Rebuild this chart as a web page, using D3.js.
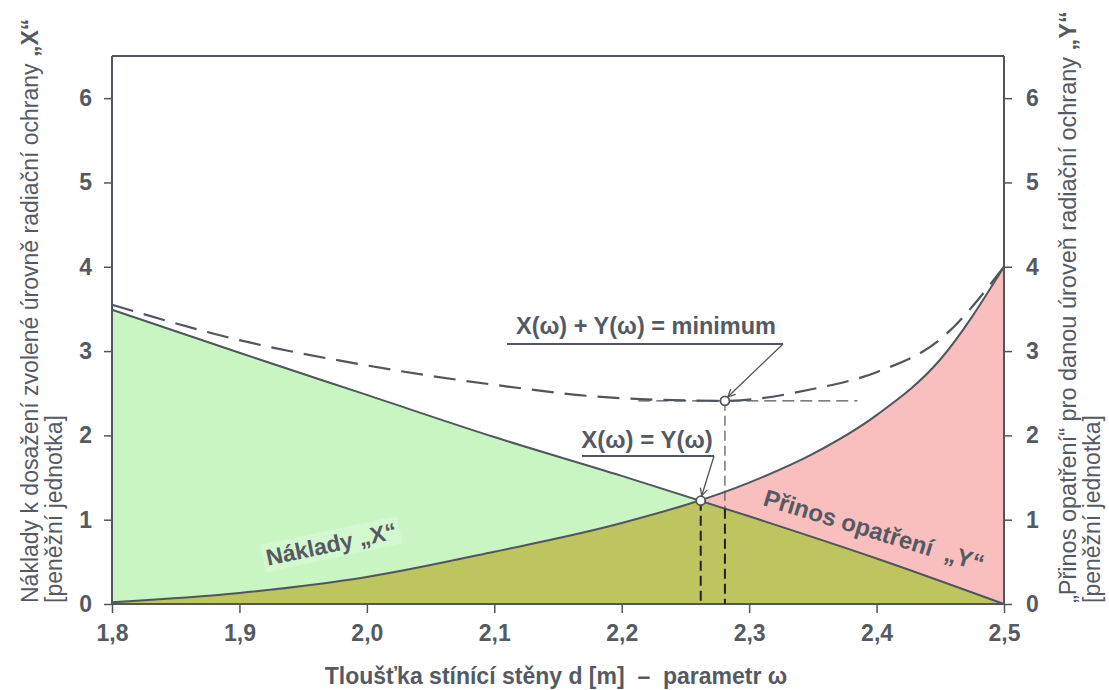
<!DOCTYPE html>
<html><head><meta charset="utf-8">
<script src="https://cdn.jsdelivr.net/npm/d3@7"></script>
<style>
body{margin:0;background:#fff;}
text{font-family:"Liberation Sans",Arial,sans-serif;fill:#555a62;}
</style></head>
<body><svg id="c" width="1109" height="690"></svg>
<script>
// ---- data ----
const xTicks = [1.8,1.9,2.0,2.1,2.2,2.3,2.4,2.5];
const xTickLabels = ["1,8","1,9","2,0","2,1","2,2","2,3","2,4","2,5"];
const yTicks = [0,1,2,3,4,5,6];
const yTickLabels = ["0","1","2","3","4","5","6"];
const costX = [1.8,1.9,2.0,2.1,2.2,2.3,2.4,2.5];           // Náklady X (decreasing line)
const costV = [3.49,2.98,2.48,1.98,1.52,1.04,0.54,0.0];
const benX  = [1.8,1.9,2.0,2.1,2.2,2.3,2.35,2.4,2.45,2.5]; // Přínos Y (increasing curve)
const benV  = [0.02,0.13,0.32,0.62,0.96,1.44,1.78,2.24,2.9,4.0];
const sumX  = [1.8,1.9,2.0,2.1,2.2,2.281,2.35,2.4,2.45,2.5]; // X+Y dashed curve
const sumV  = [3.55,3.13,2.83,2.6,2.44,2.41,2.55,2.75,3.14,4.0];
const eqPoint = [2.262,1.225];
const minPoint = [2.281,2.41];

const svg = d3.select("#c");
const x = d3.scaleLinear([1.8,2.5],[112,1004]);
const y = d3.scaleLinear([0,6.5],[604,56]);
const lineCol = "#50555e";

const cost = costX.map((d,i)=>[d,costV[i]]);
const ben = benX.map((d,i)=>[d,benV[i]]);
const sum = sumX.map((d,i)=>[d,sumV[i]]);

const area = d3.area().x(d=>x(d[0])).y0(y(0)).y1(d=>y(d[1])).curve(d3.curveMonotoneX);
const line = d3.line().x(d=>x(d[0])).y(d=>y(d[1])).curve(d3.curveMonotoneX);

const defs = svg.append("defs");
defs.append("clipPath").attr("id","costClip").append("path").attr("d",area(cost));
defs.append("marker").attr("id","arr").attr("viewBox","0 0 10 10").attr("refX",9).attr("refY",5)
  .attr("markerWidth",7).attr("markerHeight",7).attr("orient","auto")
  .append("path").attr("d","M1,1 L9,5 L1,9").attr("fill","none").attr("stroke",lineCol).attr("stroke-width",1.4);

svg.append("path").attr("d",area(cost)).attr("fill","#c8f5c2");
svg.append("path").attr("d",area(ben)).attr("fill","#f9bfbf");
svg.append("path").attr("d",area(ben)).attr("fill","#bec45e").attr("clip-path","url(#costClip)");

// frame
svg.append("line").attr("x1",x(1.8)).attr("x2",x(2.5)).attr("y1",y(6.5)).attr("y2",y(6.5)).attr("stroke",lineCol).attr("stroke-width",2);

// axes
const gL = svg.append("g").attr("transform",`translate(${x(1.8)},0)`).call(d3.axisLeft(y).tickValues(yTicks).tickFormat((d,i)=>yTickLabels[i]).tickSize(8).tickPadding(12));
const gR = svg.append("g").attr("transform",`translate(${x(2.5)},0)`).call(d3.axisRight(y).tickValues(yTicks).tickFormat((d,i)=>yTickLabels[i]).tickSize(8).tickPadding(14));
const gB = svg.append("g").attr("transform",`translate(0,${y(0)})`).call(d3.axisBottom(x).tickValues(xTicks).tickFormat((d,i)=>xTickLabels[i]).tickSize(9).tickPadding(12));
[gL,gR,gB].forEach(g=>{
  g.select(".domain").attr("stroke",lineCol).attr("stroke-width",2);
  g.selectAll(".tick line").attr("stroke",lineCol).attr("stroke-width",1.5);
  g.selectAll(".tick text").attr("font-size",23).attr("font-weight","bold").attr("fill","#555a62").attr("font-family","Liberation Sans, Arial, sans-serif");
});
gL.select(".domain").attr("d",`M0,${y(6.5)}V${y(0)}`);
gR.select(".domain").attr("d",`M0,${y(6.5)}V${y(0)}`);
gB.select(".domain").attr("d",`M${x(1.8)},0H${x(2.5)}`);

// curves
svg.append("path").attr("d",line(cost)).attr("fill","none").attr("stroke",lineCol).attr("stroke-width",2);
svg.append("path").attr("d",line(ben)).attr("fill","none").attr("stroke",lineCol).attr("stroke-width",2);
svg.append("path").attr("d",line(sum)).attr("fill","none").attr("stroke",lineCol).attr("stroke-width",2.2).attr("stroke-dasharray","22,11");

// helper dashed lines
svg.append("line").attr("x1",x(2.213)).attr("x2",x(2.385)).attr("y1",y(minPoint[1])).attr("y2",y(minPoint[1]))
  .attr("stroke",lineCol).attr("stroke-width",1.2).attr("stroke-dasharray","12,6");
svg.append("line").attr("x1",x(minPoint[0])).attr("x2",x(minPoint[0])).attr("y1",y(minPoint[1])).attr("y2",y(1.13))
  .attr("stroke",lineCol).attr("stroke-width",1.2).attr("stroke-dasharray","10,5");
svg.append("line").attr("x1",x(minPoint[0])).attr("x2",x(minPoint[0])).attr("y1",y(1.13)).attr("y2",y(0))
  .attr("stroke","#222").attr("stroke-width",2).attr("stroke-dasharray","10,5");
svg.append("line").attr("x1",x(eqPoint[0])).attr("x2",x(eqPoint[0])).attr("y1",y(eqPoint[1])).attr("y2",y(0))
  .attr("stroke","#222").attr("stroke-width",2).attr("stroke-dasharray","10,5");

// annotations
svg.append("text").attr("x",646).attr("y",334).attr("text-anchor","middle").attr("font-size",23.5).attr("font-weight","bold").text("X(ω) + Y(ω) = minimum");
svg.append("line").attr("x1",507).attr("x2",783).attr("y1",344).attr("y2",344).attr("stroke",lineCol).attr("stroke-width",2);
svg.append("line").attr("x1",783).attr("y1",344).attr("x2",x(minPoint[0])+3).attr("y2",y(minPoint[1])-4).attr("stroke",lineCol).attr("stroke-width",1.3).attr("marker-end","url(#arr)");

svg.append("text").attr("x",647).attr("y",448).attr("text-anchor","middle").attr("font-size",24).attr("font-weight","bold").text("X(ω) = Y(ω)");
svg.append("line").attr("x1",582).attr("x2",714).attr("y1",456).attr("y2",456).attr("stroke",lineCol).attr("stroke-width",2);
svg.append("line").attr("x1",714).attr("y1",456).attr("x2",x(eqPoint[0])+1).attr("y2",y(eqPoint[1])-5).attr("stroke",lineCol).attr("stroke-width",1.3).attr("marker-end","url(#arr)");

[eqPoint,minPoint].forEach(p=>{
  svg.append("circle").attr("cx",x(p[0])).attr("cy",y(p[1])).attr("r",4.5).attr("fill","#fff").attr("stroke",lineCol).attr("stroke-width",1.8);
});

// curve labels
const nl = svg.append("g").attr("transform","translate(333,552) rotate(-12)");
nl.append("rect").attr("x",-70).attr("y",-22).attr("width",140).attr("height",28).attr("fill","#d3f8cf");
nl.append("text").attr("text-anchor","middle").attr("font-size",23).attr("font-weight","bold").attr("fill","#4f545e").text("Náklady „X“");

svg.append("text").attr("transform","translate(762,505) rotate(17)").attr("font-size",24).attr("font-weight","bold").attr("fill","#4f545e")
  .attr("xml:space","preserve").text("Přinos opatření  „Y“");

// axis titles
svg.append("text").attr("transform","translate(38,603) rotate(-90)").attr("font-size",23)
  .html('Náklady k dosažení zvolené úrovně radiační ochrany <tspan font-weight="bold">„X“</tspan>');
svg.append("text").attr("transform","translate(62,603) rotate(-90)").attr("font-size",23).text("[peněžní jednotka]");
svg.append("text").attr("transform","translate(1076,603) rotate(-90)").attr("font-size",23.5)
  .html('„Přinos opatření“ pro danou úroveň radiační ochrany <tspan font-weight="bold">„Y“</tspan>');
svg.append("text").attr("transform","translate(1100,603) rotate(-90)").attr("font-size",23).text("[peněžní jednotka]");

svg.append("text").attr("x",556).attr("y",684).attr("text-anchor","middle").attr("font-size",23).attr("font-weight","bold")
  .attr("xml:space","preserve").text("Tloušťka stínící stěny d [m]  –  parametr ω");
</script></body></html>
